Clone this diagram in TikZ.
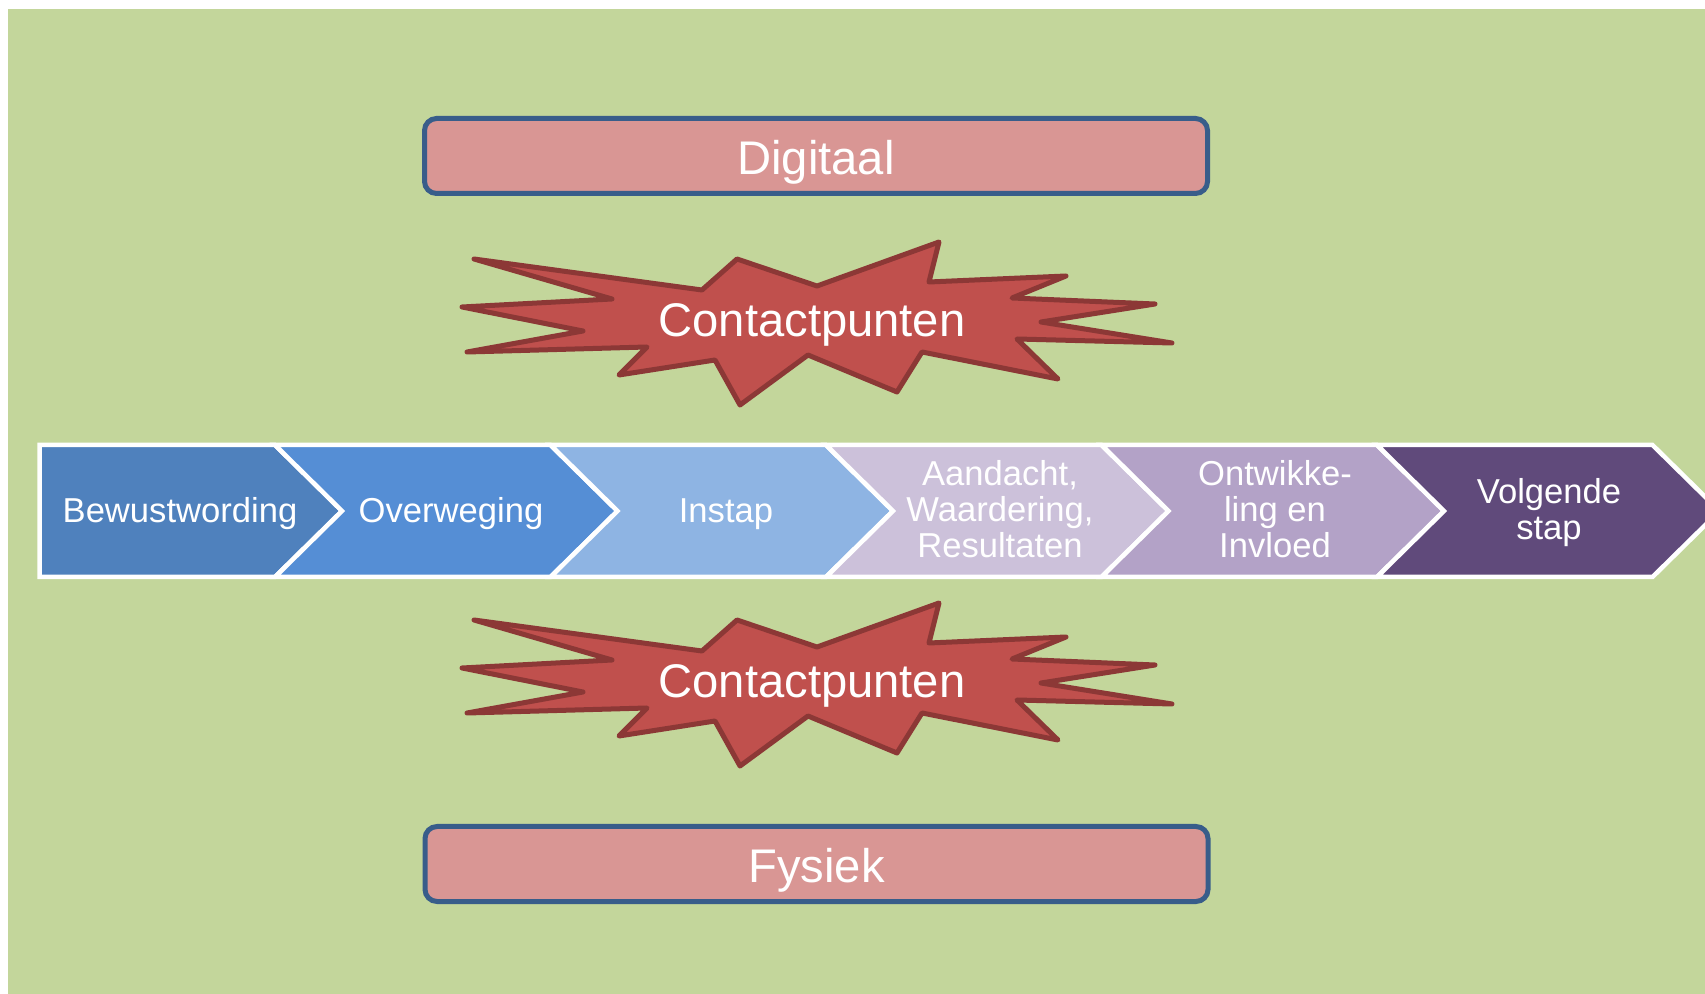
\documentclass[tikz,border=0pt]{standalone}
\usepackage{fontspec}
\setmainfont{Liberation Sans}
\definecolor{bggreen}{HTML}{C3D69B}
\definecolor{boxpink}{HTML}{D99694}
\definecolor{boxblue}{HTML}{385D8A}
\definecolor{starred}{HTML}{C0504D}
\definecolor{stardark}{HTML}{8C3836}
\definecolor{cA}{HTML}{4F81BD}
\definecolor{cB}{HTML}{558ED5}
\definecolor{cC}{HTML}{8EB4E3}
\definecolor{cD}{HTML}{CCC1DA}
\definecolor{cE}{HTML}{B3A2C7}
\definecolor{cF}{HTML}{604A7B}
\begin{document}
\begin{tikzpicture}[x=0.5pt,y=-0.5pt,
  catbox/.style={draw=boxblue, fill=boxpink, line width=2.5pt, rounded corners=6pt,
    minimum width=391.5pt, minimum height=37.5pt, inner sep=0pt,
    text=white, font=\fontsize{23.6}{28}\selectfont, text height=19pt, text depth=0pt},
  bigtext/.style={text=white, font=\fontsize{23.6}{28}\selectfont, inner sep=0pt, anchor=base},
  burst/.style={fill=starred, draw=stardark, line width=2.5pt, line join=round},
  chev/.style={draw=white, line width=2.25pt, line join=miter},
  chevtext/.style={text=white, font=\fontsize{17.3}{18}\selectfont, inner sep=0pt, anchor=base}
]
\useasboundingbox (0,0) rectangle (1705,994);
\clip (0,0) rectangle (1705,994);
\fill[white] (0,0) rectangle (1705,994);
\fill[bggreen] (8,9) rectangle (1705,994);

% category boxes
\node[catbox] (digitaal) at (816,156) {Digitaal};
\node[catbox] (fysiek) at (816.5,864) {Fysiek};

% bursts
\draw[burst] (474,259) -- (612,299) -- (462,307) -- (583,331) -- (467,352) -- (647,347)
  -- (619,375) -- (715,360) -- (740,405) -- (808,355) -- (897,392) -- (922,352)
  -- (1058,379) -- (1017,339) -- (1172,343) -- (1041,322) -- (1155,304) -- (1012,298)
  -- (1066,276) -- (929,282) -- (939,242) -- (817,286) -- (737,259) -- (702,290) -- cycle;
\node[bigtext] (cptop) at (812,337) {Contactpunten};
\begin{scope}[shift={(0,361)}]
\draw[burst] (474,259) -- (612,299) -- (462,307) -- (583,331) -- (467,352) -- (647,347)
  -- (619,375) -- (715,360) -- (740,405) -- (808,355) -- (897,392) -- (922,352)
  -- (1058,379) -- (1017,339) -- (1172,343) -- (1041,322) -- (1155,304) -- (1012,298)
  -- (1066,276) -- (929,282) -- (939,242) -- (817,286) -- (737,259) -- (702,290) -- cycle;
\node[bigtext] (cpbottom) at (812,337) {Contactpunten};
\end{scope}

% chevrons
\draw[chev, fill=cA] (39.6,445) -- (275,445) -- (342,511) -- (275,577) -- (39.6,577) -- cycle;
\draw[chev, fill=cB] (275,445) -- (550.5,445) -- (617.5,511) -- (550.5,577) -- (275,577) -- (342,511) -- cycle;
\draw[chev, fill=cC] (550.5,445) -- (826,445) -- (893,511) -- (826,577) -- (550.5,577) -- (617.5,511) -- cycle;
\draw[chev, fill=cD] (826,445) -- (1101.5,445) -- (1168.5,511) -- (1101.5,577) -- (826,577) -- (893,511) -- cycle;
\draw[chev, fill=cE] (1101.5,445) -- (1377,445) -- (1444,511) -- (1377,577) -- (1101.5,577) -- (1168.5,511) -- cycle;
\draw[chev, fill=cF] (1377,445) -- (1652.5,445) -- (1719.5,511) -- (1652.5,577) -- (1377,577) -- (1444,511) -- cycle;

\node[chevtext] (t1) at (180,523) {Bewustwording};
\node[chevtext] (t2) at (451,523) {Overweging};
\node[chevtext] (t3) at (726,523) {Instap};
\node[chevtext] (t4) at (1000,486) {\begin{tabular}[t]{@{}c@{}}Aandacht,\\Waardering,\\Resultaten\end{tabular}};
\node[chevtext] (t5) at (1275,486) {\begin{tabular}[t]{@{}c@{}}Ontwikke-\\ling en\\Invloed\end{tabular}};
\node[chevtext] (t6) at (1549,504) {\begin{tabular}[t]{@{}c@{}}Volgende\\stap\end{tabular}};
\end{tikzpicture}
\end{document}
